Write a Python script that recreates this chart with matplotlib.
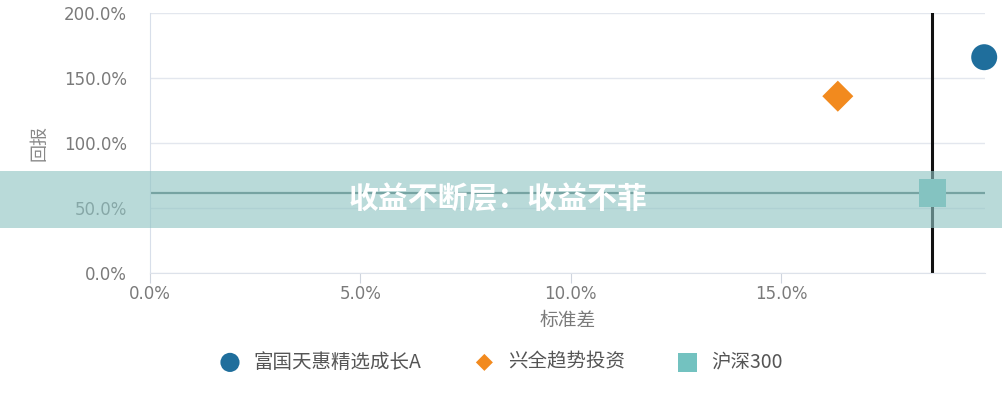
import matplotlib
matplotlib.use("Agg")
import matplotlib.pyplot as plt
from matplotlib.ticker import FuncFormatter
from matplotlib.patches import Rectangle

plt.rcParams['font.family'] = ['Noto Sans CJK SC', 'DejaVu Sans']

# data (std dev %, return %)
names = ["富国天惠精选成长A", "兴全趋势投资", "沪深300"]
std_dev = [19.83, 16.35, 18.6]
returns = [166.0, 136.0, 61.5]
markers = ["o", "D", "s"]
colors = ["#1f6e9c", "#f28a1e", "#73c2c0"]
sizes = [350, 250, 400]
legend_sizes = [190, 75, 190]

x_ticks = [0, 5, 10, 15]
y_ticks = [0, 50, 100, 150, 200]
ref_x = 18.6
ref_y = 61.5
banner = "收益不断层：收益不菲"

fig = plt.figure(figsize=(10.03, 4.0), dpi=100)
ax = fig.add_axes([0.1496, 0.3175, 0.8325, 0.65])

for v in y_ticks:
    ax.axhline(v, color="#e3e7ee", lw=1, zorder=0)
ax.axhline(ref_y, color="#4f6e6e", lw=1.6, zorder=1)
ax.axvline(ref_x, color="#111111", lw=2.2, zorder=1)

for n, x, y, m, c, s in zip(names, std_dev, returns, markers, colors, sizes):
    ax.scatter(x, y, marker=m, s=s, color=c, label=n, zorder=3,
               edgecolors="none", clip_on=False)

ax.set_xlim(0, 19.85)
ax.set_ylim(0, 200)
ax.set_xticks(x_ticks)
ax.set_yticks(y_ticks)
ax.xaxis.set_major_formatter(FuncFormatter(lambda v, p: "%.1f%%" % v))
ax.yaxis.set_major_formatter(FuncFormatter(lambda v, p: "%.1f%%" % v))
ax.tick_params(axis="both", colors="#cfd5de", labelcolor="#7a7a7a",
               labelsize=12)
ax.tick_params(axis="y", length=0, pad=16.5)
ax.tick_params(axis="x", direction="out", length=7, pad=1.5)
for lab in ax.get_xticklabels() + ax.get_yticklabels():
    lab.set_family("DejaVu Sans")
for s in ["top", "right"]:
    ax.spines[s].set_visible(False)
ax.spines["left"].set_color("#d8dfea")
ax.spines["bottom"].set_color("#dde2ea")
ax.set_xlabel("标准差", color="#7a7a7a", fontsize=13.5, labelpad=5)
ax.set_ylabel("回报", color="#888888", fontsize=13, labelpad=11)

leg = fig.legend(loc="center", bbox_to_anchor=(0.5, 0.095), ncol=3,
                 frameon=False, fontsize=14, handlelength=1.0,
                 handletextpad=0.7, columnspacing=2.75,
                 labelcolor="#555555")
for h, s in zip(leg.legend_handles, legend_sizes):
    h.set_sizes([s])

# overlay banner
fig.patches.append(Rectangle((0, 1 - 228 / 400), 1, 57 / 400,
                             transform=fig.transFigure, facecolor="#8fc4c3",
                             linewidth=0, alpha=0.62, zorder=5))
fig.text(0.496, 1 - 200 / 400, banner, color="white", fontsize=21.5,
         fontweight="bold", ha="center", va="center", zorder=6)

fig.savefig("out.png", dpi=100)
